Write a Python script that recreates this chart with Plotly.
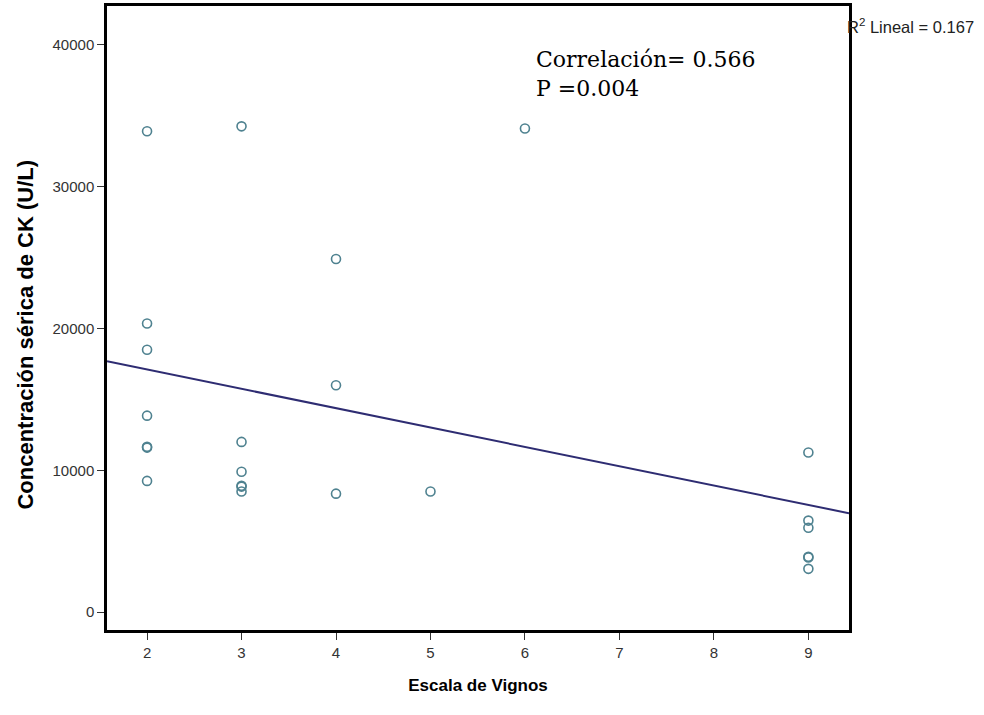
import plotly.graph_objects as go

# Data
vignos = [2, 2, 2, 2, 2, 2, 2,
          3, 3, 3, 3, 3, 3,
          4, 4, 4,
          5,
          6,
          9, 9, 9, 9, 9, 9]
ck = [33900, 20350, 18500, 13850, 11600, 11650, 9250,
      34250, 12000, 9900, 8900, 8850, 8500,
      24900, 16000, 8350,
      8500,
      34100,
      11250, 6450, 5950, 3850, 3900, 3050]

fit_intercept = 19834
fit_slope = -1364
x_range = [1.576, 9.43]
y_range = [-1263, 42737]
x_ticks = [2, 3, 4, 5, 6, 7, 8, 9]
y_ticks = [0, 10000, 20000, 30000, 40000]
y_ticktext = ["0", "10000", "20000", "30000", "40000"]

fit_x = x_range
fit_y = [fit_intercept + fit_slope * v for v in fit_x]

fig = go.Figure()
fig.add_trace(go.Scatter(
    x=fit_x, y=fit_y, mode="lines",
    line=dict(color="#2e2c72", width=2), hoverinfo="skip", showlegend=False))
fig.add_trace(go.Scatter(
    x=vignos, y=ck, mode="markers",
    marker=dict(symbol="circle-open", size=9, color="#4f8290", line=dict(width=1.6)),
    showlegend=False))

fig.update_layout(
    width=984, height=715,
    margin=dict(l=107, r=135, t=3, b=85),
    paper_bgcolor="white", plot_bgcolor="white",
    font=dict(family="Liberation Sans, Arial", color="#222"),
    xaxis=dict(range=x_range, tickvals=x_ticks, showgrid=False, zeroline=False,
               showline=True, linecolor="black", linewidth=2.5, mirror=True,
               ticks="outside", ticklen=7, tickcolor="#333", tickwidth=1.2,
               tickfont=dict(size=15, color="#333"),
               title=dict(text="<b>Escala de Vignos</b>", font=dict(size=17, color="black"), standoff=20)),
    yaxis=dict(range=y_range, tickvals=y_ticks, ticktext=y_ticktext, showgrid=False, zeroline=False,
               showline=True, linecolor="black", linewidth=2.5, mirror=True,
               ticks="outside", ticklen=7, tickcolor="#333", tickwidth=1.2,
               tickfont=dict(size=15, color="#333")),
)

fig.add_annotation(x=-0.110, y=0.474, xref="paper", yref="paper", xanchor="center", yanchor="middle",
                   text="<b>Concentración sérica de CK (U/L)</b>", textangle=-90, showarrow=False,
                   font=dict(family="Liberation Sans, Arial", size=22, color="black"))
fig.add_annotation(x=0.5755, y=0.914, xref="paper", yref="paper", xanchor="left", yanchor="middle",
                   text="Correlación= 0.566", showarrow=False,
                   font=dict(family="DejaVu Serif, Liberation Serif", size=22, color="black"))
fig.add_annotation(x=0.5755, y=0.868, xref="paper", yref="paper", xanchor="left", yanchor="middle",
                   text="P =0.004", showarrow=False,
                   font=dict(family="DejaVu Serif, Liberation Serif", size=22, color="black"))
fig.add_annotation(x=0.995, y=0.968, xref="paper", yref="paper", xanchor="left", yanchor="middle",
                   text="R<sup>2</sup> Lineal = 0.167", showarrow=False,
                   font=dict(family="Liberation Sans, Arial", size=16.5, color="#222"))

fig.write_html("out.html", config={"displayModeBar": False},
               post_script="document.body.style.margin='0';")
